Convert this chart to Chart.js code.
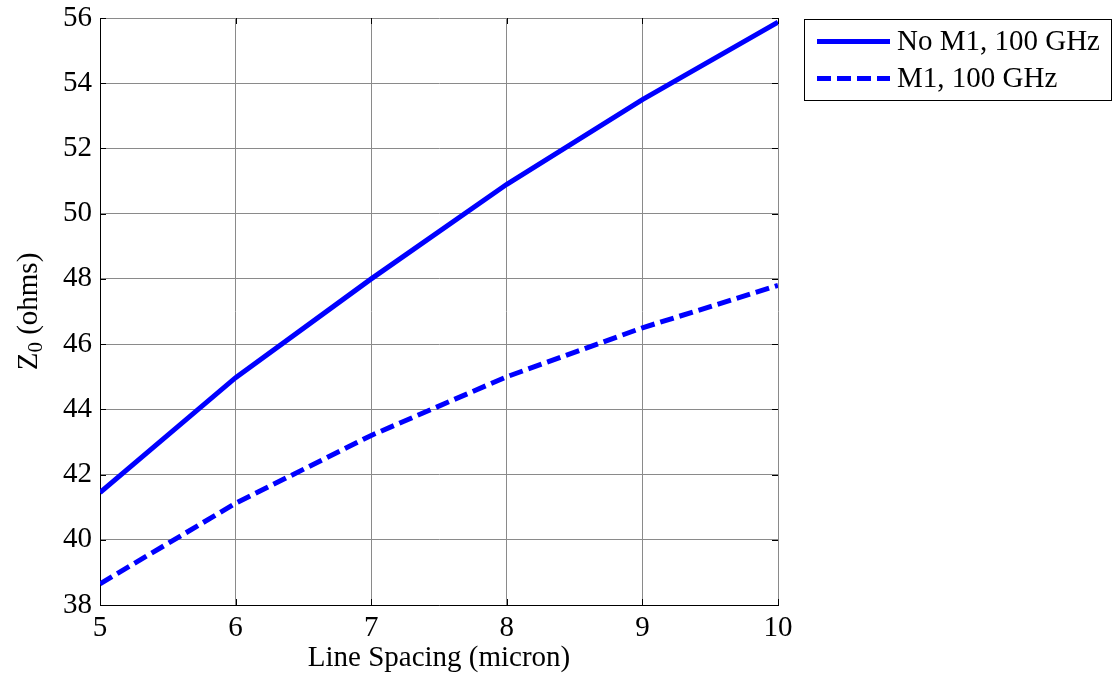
<!DOCTYPE html>
<html>
<head>
<meta charset="utf-8">
<script src="https://cdn.jsdelivr.net/npm/chart.js@4/dist/chart.umd.min.js"></script>
<style>
  html, body { margin: 0; padding: 0; background: #fff; }
  #wrap { width: 1119px; height: 680px; }
</style>
</head>
<body>
<div id="wrap"><canvas id="z0Chart"></canvas></div>
<script>
// Data
const spacing = [5, 6, 7, 8, 9, 10];
const noM1 = [41.45, 44.97, 48.0, 50.9, 53.5, 55.87];
const withM1 = [38.65, 41.12, 43.2, 45.0, 46.5, 47.8];
const seriesNames = ['No M1, 100 GHz', 'M1, 100 GHz'];
const xTicks = [5, 6, 7, 8, 9, 10];
const yTicks = [38, 40, 42, 44, 46, 48, 50, 52, 54, 56];

const FONT = '"Liberation Serif", "Times New Roman", serif';

function pts(ys) {
    return spacing.map(function(x, i) { return { x: x, y: ys[i] }; });
}

// Axis titles (y one has a subscript), inward ticks and the boxed legend
const extras = {
    id: 'extras',
    afterDraw: function(chart) {
        const ctx = chart.ctx;
        const a = chart.chartArea;
        const xs = chart.scales.x, ys = chart.scales.y;
        ctx.save();

        // inward tick marks on all four sides
        ctx.strokeStyle = '#000';
        ctx.lineWidth = 1;
        ctx.beginPath();
        xTicks.forEach(function(v) {
            const px = Math.round(xs.getPixelForValue(v)) + 0.5;
            ctx.moveTo(px, a.bottom); ctx.lineTo(px, a.bottom - 6);
            ctx.moveTo(px, a.top); ctx.lineTo(px, a.top + 6);
        });
        yTicks.forEach(function(v) {
            const py = Math.round(ys.getPixelForValue(v)) + 0.5;
            ctx.moveTo(a.left, py); ctx.lineTo(a.left + 6, py);
            ctx.moveTo(a.right, py); ctx.lineTo(a.right - 6, py);
        });
        ctx.stroke();

        // x title
        ctx.fillStyle = '#000';
        ctx.font = '29px ' + FONT;
        ctx.textAlign = 'center';
        ctx.textBaseline = 'alphabetic';
        ctx.fillText('Line Spacing (micron)', (a.left + a.right) / 2, 666);

        // y title: Z0 (ohms), rotated
        ctx.save();
        ctx.translate(37, (a.top + a.bottom) / 2);
        ctx.rotate(-Math.PI / 2);
        ctx.textAlign = 'left';
        ctx.font = '29px ' + FONT;
        const wZ = ctx.measureText('Z').width;
        const wRest = ctx.measureText(' (ohms)').width;
        ctx.font = '21px ' + FONT;
        const wSub = ctx.measureText('0').width;
        let x0 = -(wZ + wSub + wRest) / 2;
        ctx.font = '29px ' + FONT;
        ctx.fillText('Z', x0, 0);
        ctx.font = '21px ' + FONT;
        ctx.fillText('0', x0 + wZ, 5);
        ctx.font = '29px ' + FONT;
        ctx.fillText(' (ohms)', x0 + wZ + wSub, 0);
        ctx.restore();

        // legend box
        const bx = 804.5, by = 19.5, bw = 307, bh = 81;
        ctx.fillStyle = '#fff';
        ctx.fillRect(bx, by, bw, bh);
        ctx.strokeStyle = '#000';
        ctx.lineWidth = 1;
        ctx.strokeRect(bx, by, bw, bh);
        chart.data.datasets.forEach(function(ds, i) {
            const cy = 41.5 + i * 37;
            ctx.strokeStyle = ds.borderColor;
            ctx.lineWidth = ds.borderWidth;
            ctx.setLineDash(ds.borderDash || []);
            ctx.beginPath();
            ctx.moveTo(817, cy);
            ctx.lineTo(890, cy);
            ctx.stroke();
            ctx.setLineDash([]);
            ctx.fillStyle = '#000';
            ctx.font = '29px ' + FONT;
            ctx.textAlign = 'left';
            ctx.textBaseline = 'middle';
            ctx.fillText(ds.label, 897, cy + 1);
        });
        ctx.restore();
    }
};

const ctxZ0 = document.getElementById('z0Chart').getContext('2d');
const z0Chart = new Chart(ctxZ0, {
    type: 'line',
    data: {
        datasets: [{
            label: seriesNames[0],
            data: pts(noM1),
            borderColor: '#0000ff',
            borderWidth: 5,
            pointRadius: 0,
            tension: 0,
            fill: false,
        }, {
            label: seriesNames[1],
            data: pts(withM1),
            borderColor: '#0000ff',
            borderWidth: 5,
            borderDash: [14, 6],
            pointRadius: 0,
            tension: 0,
            fill: false,
        }]
    },
    options: {
        responsive: true,
        maintainAspectRatio: false,
        animation: false,
        layout: {
            padding: { top: 18, right: 341, left: 0, bottom: 0 }
        },
        scales: {
            x: {
                type: 'linear',
                min: 5,
                max: 10,
                afterBuildTicks: function(scale) {
                    scale.ticks = xTicks.map(function(v) { return { value: v }; });
                },
                afterFit: function(scale) {
                    scale.height = 75;
                    scale.paddingLeft = 0;
                    scale.paddingRight = 0;
                },
                grid: {
                    color: '#8a8a8a',
                    lineWidth: 1,
                    drawTicks: false,
                },
                border: { display: true, color: '#000', width: 1 },
                ticks: {
                    color: '#000',
                    padding: 6,
                    maxRotation: 0,
                    font: { family: FONT, size: 29 },
                },
            },
            y: {
                min: 38,
                max: 56,
                afterBuildTicks: function(scale) {
                    scale.ticks = yTicks.map(function(v) { return { value: v }; });
                },
                afterFit: function(scale) {
                    scale.width = 100;
                    scale.paddingTop = 0;
                    scale.paddingBottom = 0;
                },
                grid: {
                    color: '#8a8a8a',
                    lineWidth: 1,
                    drawTicks: false,
                },
                border: { display: true, color: '#000', width: 1 },
                ticks: {
                    color: '#000',
                    padding: 8,
                    font: { family: FONT, size: 29 },
                },
            }
        },
        plugins: {
            legend: { display: false },
            tooltip: { enabled: false },
        }
    },
    plugins: [extras]
});
</script>
</body>
</html>
